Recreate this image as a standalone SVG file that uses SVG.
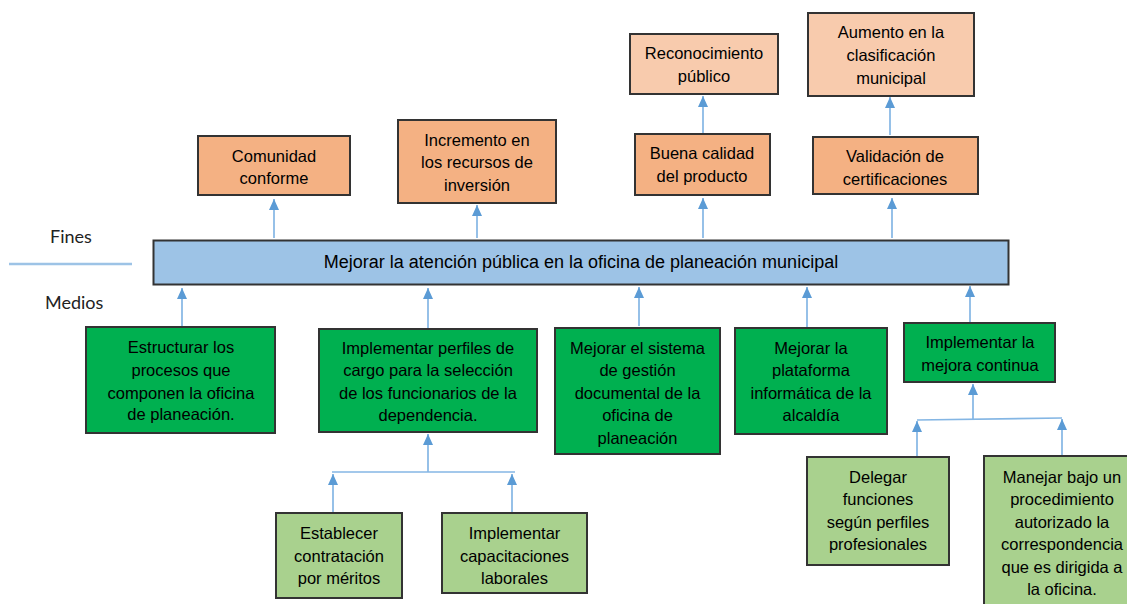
<svg xmlns="http://www.w3.org/2000/svg" width="1127" height="604" viewBox="0 0 1127 604">
  <style>
    .box { stroke: #333333; stroke-width: 2; }
    .fin1 { fill: #f4b183; }
    .fin2 { fill: #f8cbad; }
    .core { fill: #9dc3e6; }
    .med1 { fill: #00b050; }
    .med2 { fill: #a9d18e; }
    .t { font-family: "Liberation Sans", Arial, sans-serif; font-size: 16.5px; fill: #000; text-anchor: middle; }
    .tcore { font-family: "Liberation Sans", Arial, sans-serif; font-size: 18px; fill: #000; text-anchor: middle; }
    .lbl { font-family: Lato, "Liberation Sans", sans-serif; font-size: 18px; fill: #222; }
    .link { stroke: #84b6e4; stroke-width: 1.7; fill: none; }
  </style>
  <defs>
    <marker id="head" viewBox="0 0 11 10" refX="11" refY="5" markerWidth="11" markerHeight="10" markerUnits="userSpaceOnUse" orient="auto">
      <path d="M0,0 L11,5 L0,10 z" fill="#5b9bd5"/>
    </marker>
  </defs>
  <rect width="1127" height="604" fill="#ffffff"/>

  <!-- side labels -->
  <g id="labels">
    <text class="lbl" x="50" y="243">Fines</text>
    <line x1="9" y1="264" x2="132" y2="264" stroke="#9dc3e6" stroke-width="2.5"/>
    <text class="lbl" x="45" y="309">Medios</text>
  </g>

  <!-- connectors -->
  <g id="connectors">
    <line class="link" x1="274" y1="238" x2="274" y2="199" marker-end="url(#head)"/>
    <line class="link" x1="477" y1="238" x2="477" y2="205" marker-end="url(#head)"/>
    <line class="link" x1="703" y1="238" x2="703" y2="198" marker-end="url(#head)"/>
    <line class="link" x1="892" y1="238" x2="892" y2="198" marker-end="url(#head)"/>
    <line class="link" x1="703" y1="133" x2="703" y2="96" marker-end="url(#head)"/>
    <line class="link" x1="890" y1="135" x2="890" y2="97" marker-end="url(#head)"/>

    <line class="link" x1="182" y1="326" x2="182" y2="288" marker-end="url(#head)"/>
    <line class="link" x1="428" y1="328" x2="428" y2="288" marker-end="url(#head)"/>
    <line class="link" x1="639" y1="326" x2="639" y2="287" marker-end="url(#head)"/>
    <line class="link" x1="807" y1="327" x2="807" y2="287" marker-end="url(#head)"/>
    <line class="link" x1="970" y1="322" x2="970" y2="286" marker-end="url(#head)"/>

    <line class="link" x1="428" y1="472" x2="428" y2="434" marker-end="url(#head)"/>
    <line class="link" x1="332" y1="472" x2="515" y2="472"/>
    <line class="link" x1="333" y1="512" x2="333" y2="474" marker-end="url(#head)"/>
    <line class="link" x1="512" y1="512" x2="512" y2="474" marker-end="url(#head)"/>

    <line class="link" x1="973" y1="419" x2="973" y2="384" marker-end="url(#head)"/>
    <line class="link" x1="917" y1="420" x2="1062" y2="418"/>
    <line class="link" x1="917" y1="456" x2="917" y2="421" marker-end="url(#head)"/>
    <line class="link" x1="1062" y1="455" x2="1062" y2="419" marker-end="url(#head)"/>
  </g>

  <!-- central objective -->
  <g id="objetivo">
    <rect class="box core" x="153.5" y="240.5" width="855" height="44"/>
    <text class="tcore" x="581" y="268">Mejorar la atención pública en la oficina de planeación municipal</text>
  </g>

  <!-- ends -->
  <g id="comunidad">
    <rect class="box fin1" x="198" y="136" width="152" height="59"/>
    <text class="t" x="274" y="162">Comunidad</text>
    <text class="t" x="274" y="183.5">conforme</text>
  </g>
  <g id="incremento">
    <rect class="box fin1" x="398" y="120" width="158" height="83"/>
    <text class="t" x="477" y="146">Incremento en</text>
    <text class="t" x="477" y="168">los recursos de</text>
    <text class="t" x="477" y="191">inversión</text>
  </g>
  <g id="buena-calidad">
    <rect class="box fin1" x="635" y="134" width="135" height="61"/>
    <text class="t" x="702" y="159">Buena calidad</text>
    <text class="t" x="702" y="182">del producto</text>
  </g>
  <g id="validacion">
    <rect class="box fin1" x="813" y="137" width="165" height="57"/>
    <text class="t" x="895" y="162">Validación de</text>
    <text class="t" x="895" y="185">certificaciones</text>
  </g>
  <g id="reconocimiento">
    <rect class="box fin2" x="630" y="34" width="148" height="60"/>
    <text class="t" x="704" y="59">Reconocimiento</text>
    <text class="t" x="704" y="82">público</text>
  </g>
  <g id="aumento">
    <rect class="box fin2" x="808" y="13" width="166" height="83"/>
    <text class="t" x="891" y="38">Aumento en la</text>
    <text class="t" x="891" y="61">clasificación</text>
    <text class="t" x="891" y="84">municipal</text>
  </g>

  <!-- means -->
  <g id="estructurar">
    <rect class="box med1" x="86" y="327" width="189" height="106"/>
    <text class="t" x="181" y="353">Estructurar los</text>
    <text class="t" x="181" y="376">procesos que</text>
    <text class="t" x="181" y="399">componen la oficina</text>
    <text class="t" x="181" y="420">de planeación.</text>
  </g>
  <g id="perfiles">
    <rect class="box med1" x="319" y="329" width="218" height="103"/>
    <text class="t" x="428" y="354">Implementar perfiles de</text>
    <text class="t" x="428" y="376">cargo para la selección</text>
    <text class="t" x="428" y="399">de los funcionarios de la</text>
    <text class="t" x="428" y="421">dependencia.</text>
  </g>
  <g id="gestion-documental">
    <rect class="box med1" x="555" y="328" width="165" height="126"/>
    <text class="t" x="637.5" y="354">Mejorar el sistema</text>
    <text class="t" x="637.5" y="376">de gestión</text>
    <text class="t" x="637.5" y="399">documental de la</text>
    <text class="t" x="637.5" y="421">oficina de</text>
    <text class="t" x="637.5" y="444">planeación</text>
  </g>
  <g id="plataforma">
    <rect class="box med1" x="735" y="328" width="152" height="106"/>
    <text class="t" x="811" y="354">Mejorar la</text>
    <text class="t" x="811" y="376">plataforma</text>
    <text class="t" x="811" y="399">informática de la</text>
    <text class="t" x="811" y="421">alcaldía</text>
  </g>
  <g id="mejora-continua">
    <rect class="box med1" x="904" y="323" width="151" height="59"/>
    <text class="t" x="980" y="348">Implementar la</text>
    <text class="t" x="980" y="371">mejora continua</text>
  </g>
  <g id="contratacion">
    <rect class="box med2" x="276" y="513" width="126" height="85"/>
    <text class="t" x="339" y="539">Establecer</text>
    <text class="t" x="339" y="562">contratación</text>
    <text class="t" x="339" y="584">por méritos</text>
  </g>
  <g id="capacitaciones">
    <rect class="box med2" x="442" y="513" width="145" height="80"/>
    <text class="t" x="514.5" y="539">Implementar</text>
    <text class="t" x="514.5" y="562">capacitaciones</text>
    <text class="t" x="514.5" y="584">laborales</text>
  </g>
  <g id="delegar">
    <rect class="box med2" x="807" y="457" width="142" height="108"/>
    <text class="t" x="878" y="482.5">Delegar</text>
    <text class="t" x="878" y="505">funciones</text>
    <text class="t" x="878" y="528">según perfiles</text>
    <text class="t" x="878" y="550">profesionales</text>
  </g>
  <g id="correspondencia">
    <rect class="box med2" x="984" y="456" width="158" height="160"/>
    <text class="t" x="1062" y="482.5">Manejar bajo un</text>
    <text class="t" x="1062" y="505">procedimiento</text>
    <text class="t" x="1062" y="528">autorizado la</text>
    <text class="t" x="1062" y="550">correspondencia</text>
    <text class="t" x="1062" y="572.5">que es dirigida a</text>
    <text class="t" x="1062" y="595">la oficina.</text>
  </g>
</svg>
